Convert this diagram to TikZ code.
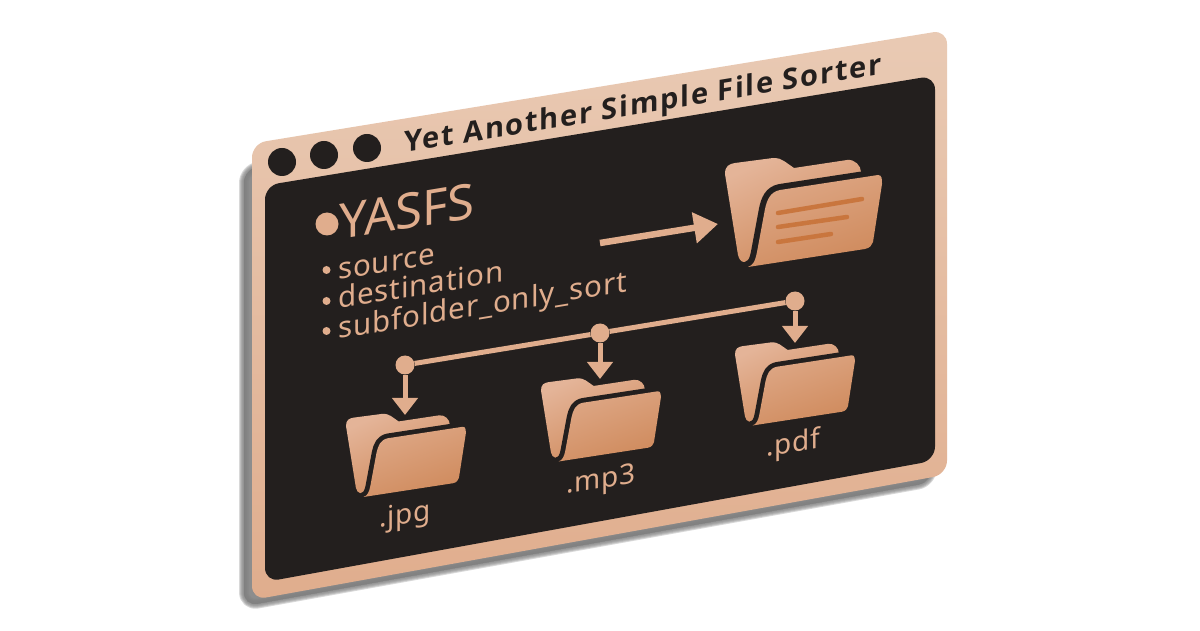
\documentclass[tikz,border=0pt]{standalone}
\usepackage{fontspec}
\setmainfont{Noto Sans}
\newfontfamily\titlefont[LetterSpace=6]{Open Sans}
\newfontfamily\bodyfont[LetterSpace=3]{Noto Sans}
\usetikzlibrary{arrows.meta, positioning, calc}
\definecolor{inkdark}{HTML}{231F1E}
\definecolor{tanlight}{HTML}{E9CAB4}
\definecolor{tanmid}{HTML}{E0AD8D}
\definecolor{foldertop}{HTML}{E4B498}
\definecolor{folderlow}{HTML}{CF8A5C}
\definecolor{stripe}{HTML}{C9763E}

\begin{document}
\begin{tikzpicture}[
    x=1pt, y=1pt,
    winframe/.style={rounded corners=14pt},
    pane/.style={fill=inkdark, rounded corners=14pt},
    btn/.style={circle, fill=inkdark, minimum size=28pt, inner sep=0pt},
    hub/.style={circle, fill=tanmid, minimum size=19pt, inner sep=0pt},
    bigdot/.style={circle, fill=tanmid, minimum size=23pt, inner sep=0pt},
    tinydot/.style={circle, fill=tanmid, minimum size=8pt, inner sep=0pt},
    label/.style={yslant=0.165, anchor=base west, inner sep=0pt, text=tanmid},
    wire/.style={draw=tanmid, line width=5pt},
    arrow/.style={wire, -{Triangle[length=17pt, width=25pt]}},
    bigarrow/.style={draw=tanmid, line width=6.5pt, -{Triangle[length=24pt, width=30pt]}},
    stripeline/.style={draw=stripe, line width=4.5pt, line cap=round},
    pics/folder/.style={code={
        \shade[top color=foldertop, bottom color=folderlow, shading angle=25]
            (0,-2) .. controls (0,6) and (4,8) .. (10,9) -- (48,14)
            .. controls (53,14) and (56,13) .. (59,11) -- (69,4) -- (122,12)
            .. controls (130,13) and (136,6) .. (136,0) -- (30,-85) -- (28,-85)
            .. controls (25,-90) and (22,-90) .. (19,-90)
            .. controls (16,-90) and (14,-87) .. (13,-83) -- cycle;
        \draw[inkdark, line width=#1, line join=round]
            (23,-95) -- (140,-77) .. controls (145,-76) and (147,-73) .. (148,-70)
            -- (157,-12) .. controls (157,-7) and (157,-3) .. (153,-3) -- (55,-18)
            .. controls (45,-20) and (42,-28) .. (40,-37) -- (32,-80)
            .. controls (30,-90) and (28,-93) .. (23,-95) -- cycle;
        \shade[top color=foldertop!70!folderlow, bottom color=folderlow, shading angle=20]
            (23,-95) -- (140,-77) .. controls (145,-76) and (147,-73) .. (148,-70)
            -- (157,-12) .. controls (157,-7) and (157,-3) .. (153,-3) -- (55,-18)
            .. controls (45,-20) and (42,-28) .. (40,-37) -- (32,-80)
            .. controls (30,-90) and (28,-93) .. (23,-95) -- cycle;
    }}
]
    \useasboundingbox (0,0) rectangle (1200,630);
    \fill[white] (0,0) rectangle (1200,630);

    % Window shadow
    \foreach \w in {10,8,6,4,2,0}
        \path[fill=gray, draw=gray, opacity=0.3, line width=\w pt, winframe, line join=round]
            (244,630-169) -- (932,630-54) -- (932,630-482) -- (244,630-606) -- cycle;

    % Window
    \shade[winframe, top color=tanlight, bottom color=tanmid]
        (252,630-143.5) -- (947,630-30) -- (947,630-474.5) -- (252,630-600) -- cycle;
    \path[pane] (265,630-185.5) -- (935,630-75.5) -- (935,630-460.5) -- (265,630-582) -- cycle;

    % Title bar
    \node[btn] (btna) at (282,630-162) {};
    \node[btn] (btnb) at (324,630-155) {};
    \node[btn] (btnc) at (367,630-148) {};
    \node[label, text=inkdark, font=\titlefont\bfseries\fontsize{29}{32}\selectfont] (title) at (404,630-153) {Yet Another Simple File Sorter};

    % Text block
    \node[bigdot] (yasfsdot) at (327,630-224) {};
    \node[label, font=\fontsize{49}{56}\selectfont] (yasfs) at (339,630-240) {YASFS};
    \node[tinydot] (srcdot) at (326.5,630-270) {};
    \node[tinydot] (dstdot) at (326.5,630-301) {};
    \node[tinydot] (subdot) at (326.5,630-331) {};
    \node[label, font=\bodyfont\fontsize{29.5}{32}\selectfont] (src) at (338,630-280) {source};
    \node[label, font=\bodyfont\fontsize{29.5}{32}\selectfont] (dst) at (338,630-309) {destination};
    \node[label, font=\bodyfont\fontsize{29.5}{32}\selectfont] (sub) at (338,630-339) {subfolder\_only\_sort};

    % Folders
    \pic at (725,630-172) {folder=12pt};
    \draw[stripeline] (778,630-213) -- (862,630-199);
    \draw[stripeline] (778,630-227) -- (847,630-217);
    \draw[stripeline] (778,630-242) -- (831,630-234);
    \pic[scale=0.763] at (346,630-424.5) {folder=9.5pt};
    \pic[scale=0.763] at (541,630-389) {folder=9.5pt};
    \pic[scale=0.763] at (735,630-353) {folder=9.5pt};

    \node[label, font=\bodyfont\fontsize{28}{32}\selectfont] (jpg) at (379,630-528) {.jpg};
    \node[label, font=\bodyfont\fontsize{28}{32}\selectfont] (mp3) at (566,630-494) {.mp3};
    \node[label, font=\bodyfont\fontsize{28}{32}\selectfont] (pdf) at (766,630-457) {.pdf};

    % Connectors
    \coordinate (bigtip) at (718,630-224);
    \coordinate (arrowtail) at (600,630-243);
    \coordinate (jpgtip) at (405,630-415);
    \coordinate (mp3tip) at (600,630-379);
    \coordinate (pdftip) at (795,630-343);
    \node[hub] (jpghub) at (405,630-365) {};
    \node[hub] (mp3hub) at (600,630-333) {};
    \node[hub] (pdfhub) at (795,630-301) {};
    \draw[wire] (jpghub) -- (mp3hub);
    \draw[wire] (mp3hub) -- (pdfhub);
    \draw[arrow] (jpghub) -- (jpgtip);
    \draw[arrow] (mp3hub) -- (mp3tip);
    \draw[arrow] (pdfhub) -- (pdftip);
    \draw[bigarrow] (arrowtail) -- (bigtip);
\end{tikzpicture}
\end{document}
